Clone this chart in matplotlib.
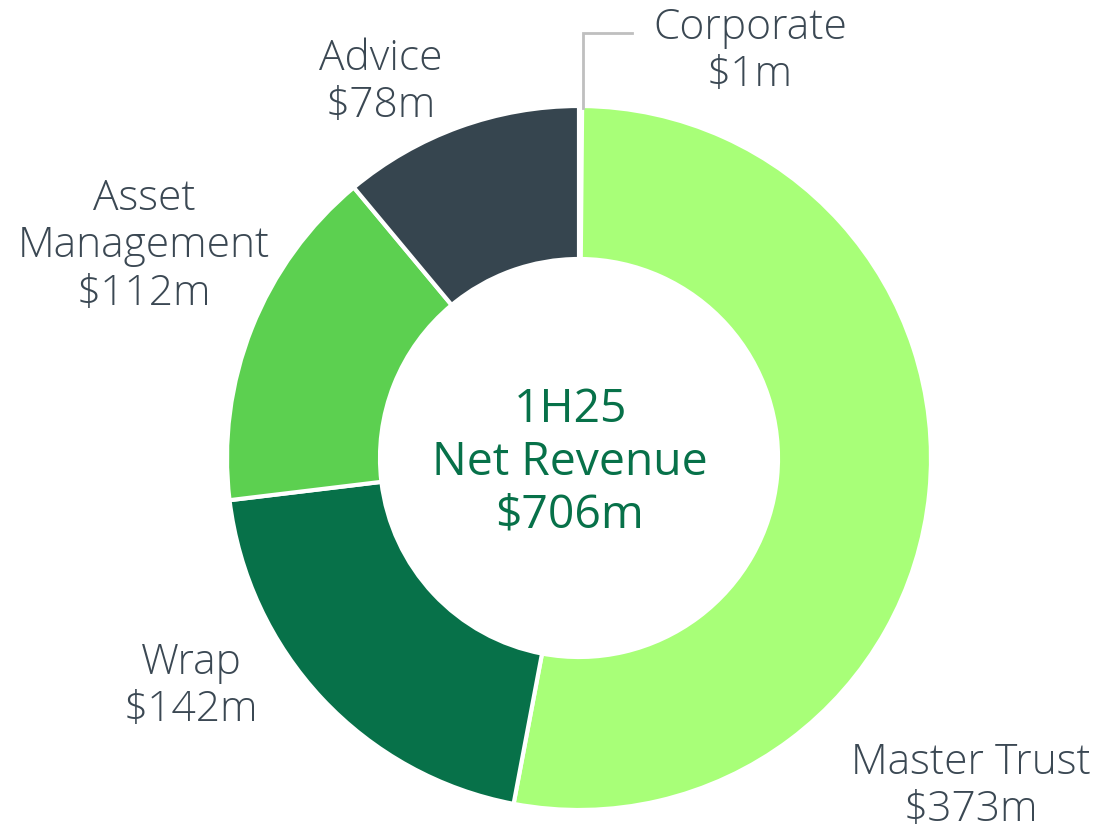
import matplotlib
matplotlib.use("Agg")
import matplotlib.pyplot as plt

categories = ["Corporate", "Master Trust", "Wrap", "Asset Management", "Advice"]
values = [1, 373, 142, 112, 78]
label_texts = ["Corporate\n$1m", "Master Trust\n$373m", "Wrap\n$142m", "Asset\nManagement\n$112m", "Advice\n$78m"]
colors = ["#D9D9D9", "#A8FF78", "#077149", "#5CD050", "#36454F"]
center_title = "1H25\nNet Revenue\n$706m"

plt.rcParams['font.family'] = ['Open Sans', 'DejaVu Sans']

W, H = 1097, 832
fig = plt.figure(figsize=(W / 100, H / 100), dpi=100)
ax = fig.add_axes([0, 0, 1, 1])

cx, cy = 579, H - 458
R = 352
ax.pie(values, colors=colors, startangle=90, counterclock=False,
       center=(cx, cy), radius=R, frame=True,
       wedgeprops=dict(width=R - 199, edgecolor='white', linewidth=3))
ax.set_xlim(0, W)
ax.set_ylim(0, H)
ax.set_aspect('equal')
ax.axis('off')

txt_color = "#3B4853"
lab_pos = {
    "Corporate": (750, H - 51),
    "Master Trust": (971, H - 786),
    "Wrap": (191, H - 686),
    "Asset Management": (144, H - 246),
    "Advice": (381, H - 82),
}
for cat, t in zip(categories, label_texts):
    x, y = lab_pos[cat]
    ax.text(x, y, t, ha='center', va='center', fontsize=30.6, color=txt_color,
            linespacing=1.15, fontweight='light')

# leader line for Corporate
ax.plot([583, 583, 632], [H - 108, H - 33, H - 33], color="#BFBFBF", lw=2,
        solid_joinstyle='miter')

ax.text(570, H - 463, center_title, ha='center', va='center', fontsize=33.3,
        color="#077149", linespacing=1.2)

fig.savefig("out.png", dpi=100)
